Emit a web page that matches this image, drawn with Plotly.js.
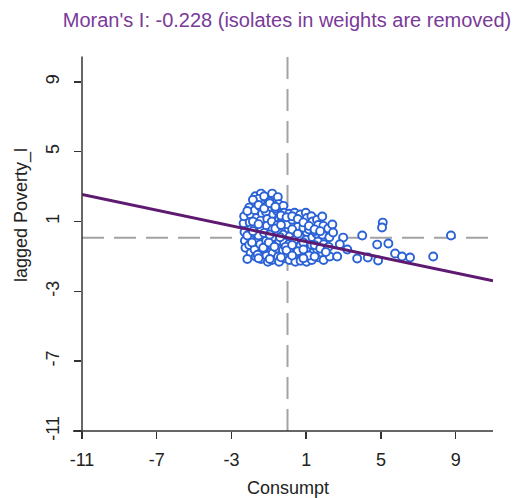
<!DOCTYPE html>
<html>
<head>
<meta charset="utf-8">
<script src="https://cdn.plot.ly/plotly-3.0.1.min.js"></script>
<style>html,body{margin:0;padding:0;background:#fff;}#chart{width:514px;height:498px;}</style>
</head>
<body>
<div id="chart"></div>
<script>
// ---- data ----
const titleText = "Moran's I: -0.228 (isolates in weights are removed)";
const xLabel = "Consumpt";
const yLabel = "lagged Poverty_l";
const tickValues = [-11, -7, -3, 1, 5, 9];
const tickLabels = ["-11", "-7", "-3", "1", "5", "9"];

const consumpt = [
  -2.35,-2.30,-2.28,-2.32,-2.25,
  -2.05,-1.98,-2.02,-1.95,-2.00,-2.05,-1.97,
  -1.72,-1.68,-1.75,-1.66,-1.73,-1.70,-1.64,-1.76,-1.70,
  -1.42,-1.38,-1.45,-1.36,-1.44,-1.40,-1.35,-1.46,-1.38,-1.42,
  -1.12,-1.06,-1.15,-1.08,-1.10,-1.05,-1.14,-1.08,-1.12,-1.05,
  -0.82,-0.78,-0.85,-0.76,-0.84,-0.80,-0.75,-0.86,-0.79,-0.83,
  -0.52,-0.47,-0.55,-0.46,-0.53,-0.49,-0.44,-0.56,-0.50,-0.45,
  -0.22,-0.17,-0.25,-0.16,-0.23,-0.18,-0.24,-0.15,
  0.08,0.14,0.05,0.12,0.07,0.15,0.10,
  0.38,0.44,0.36,0.43,0.39,0.45,0.37,0.42,
  0.68,0.74,0.66,0.72,0.69,0.75,0.70,
  0.98,1.04,0.96,1.03,0.99,1.05,0.97,1.02,
  1.28,1.34,1.26,1.33,1.29,1.35,1.30,
  1.58,1.64,1.56,1.63,1.59,1.65,
  1.86,1.92,1.88,1.94,1.87,1.93,
  2.18,2.24,2.20,2.26,
  -1.55,-1.25,-0.95,-0.65,-1.85,-1.55,-1.25,-0.35,-0.05,0.25,0.55,0.85,
  -1.90,-1.60,-1.30,-1.00,-0.70,-0.40,-0.10,0.25,0.55,0.85,1.15,1.45,
  -2.15,-1.85,-1.55,-1.25,-0.95,-0.65,-0.35,-2.15,-1.85,-1.55,-1.25,-0.95,-0.65,-0.35,
  -0.05,0.25,0.55,0.85,1.15,1.45,1.75,-0.05,0.25,0.55,0.85,1.15,1.45,1.75,
  -2.15,-1.55,-0.95,-0.35,0.25,0.85,1.45,2.05,
  2.40,2.44,2.98,4.00,5.10,5.06,4.80,5.40,5.76,6.13,6.56,7.80,8.75,3.73,4.30,4.85,2.66,3.20,2.80
];
const laggedPoverty = [
  0.90,0.40,-0.10,1.30,-0.50,
  1.80,1.40,0.95,0.55,0.10,-0.35,-0.80,
  2.45,2.05,1.65,1.20,0.75,0.30,-0.15,-0.60,-1.00,
  2.60,2.20,1.85,1.45,1.05,0.60,0.15,-0.30,-0.75,-1.15,
  2.35,1.95,1.55,1.15,0.75,0.35,-0.10,-0.55,-0.95,-1.30,
  2.60,2.20,1.80,1.40,1.00,0.55,0.10,-0.35,-0.80,-1.20,
  2.40,2.00,1.60,1.20,0.80,0.35,-0.10,-0.55,-1.00,-1.30,
  1.90,1.50,1.10,0.70,0.25,-0.20,-0.65,-1.10,
  1.45,1.00,0.60,0.15,-0.30,-0.75,-1.20,
  1.50,1.20,0.85,0.40,-0.05,-0.50,-0.95,-1.30,
  1.40,0.95,0.50,0.05,-0.40,-0.85,-1.25,
  1.50,1.20,0.85,0.40,-0.05,-0.50,-0.95,-1.30,
  1.30,1.00,0.55,0.10,-0.35,-0.80,-1.20,
  1.10,0.80,0.30,-0.15,-0.60,-1.05,
  1.29,0.75,0.25,-0.30,-0.80,-1.20,
  0.60,0.10,-0.45,-1.00,
  2.30,2.45,2.15,1.75,1.00,0.20,-0.55,1.30,0.85,1.10,0.70,-0.20,
  -0.20,-0.90,-0.50,-0.20,-0.45,0.10,-0.45,0.55,0.30,0.65,0.55,0.45,
  1.60,2.25,1.95,1.75,2.05,1.85,1.35,0.20,0.45,0.85,0.35,0.25,0.60,0.80,
  1.25,1.30,1.15,0.95,0.75,0.55,0.45,-0.65,-0.35,-0.70,-0.60,-0.95,-0.35,-0.55,
  -1.15,-1.10,-1.15,-1.05,-0.95,-1.10,-1.00,-0.75,
  0.83,0.37,0.08,0.20,0.94,0.66,-0.32,-0.26,-0.83,-1.00,-1.06,-1.00,0.20,-1.12,-1.06,-1.23,-1.00,-0.60,-0.30
];
const meanX = [0, 0];
const meanLineY = [-11, 11];
const meanY = [0.07, 0.07];
const meanLineX = [-11, 11];
const regX = [-11, 11];
const regY = [2.55, -2.40];

const font = "Liberation Sans, Arial, sans-serif";
const dash = "22px,10px";

const traces = [
  {x: meanX, y: meanLineY, mode: "lines", line: {color: "#a3a3a3", width: 2, dash: dash}, hoverinfo: "skip"},
  {x: meanLineX, y: meanY, mode: "lines", line: {color: "#a3a3a3", width: 2, dash: dash}, hoverinfo: "skip"},
  {x: consumpt, y: laggedPoverty, mode: "markers", type: "scatter",
   marker: {symbol: "circle", size: 8, color: "#ffffff", line: {color: "#2a62d6", width: 1.9}}},
  {x: regX, y: regY, mode: "lines", line: {color: "#5e1a70", width: 3}}
];

const axisCommon = {
  range: [-11, 11], tickvals: tickValues, ticktext: tickLabels,
  ticks: "outside", ticklen: 7, tickwidth: 1.5, tickcolor: "#333",
  showgrid: false, zeroline: false, showline: false, fixedrange: true,
  tickfont: {family: font, size: 18, color: "#222"}
};

const layout = {
  width: 514, height: 498,
  margin: {l: 82, r: 21, t: 47, b: 67, pad: 0},
  paper_bgcolor: "#fff", plot_bgcolor: "#fff",
  showlegend: false,
  title: {text: titleText, x: 287/514, xanchor: "center", y: 1 - 20/498, yanchor: "middle",
          font: {family: font, size: 20, color: "#7a3a98"}},
  xaxis: Object.assign({}, axisCommon, {ticklabelstandoff: 5}),
  yaxis: Object.assign({}, axisCommon, {tickangle: -90, ticklabelstandoff: 8}),
  shapes: [
    {type: "line", xref: "paper", yref: "paper", x0: -0.022, x1: 1.0, y0: 0, y1: 0, line: {color: "#333", width: 1.5}},
    {type: "line", xref: "paper", yref: "paper", x0: 0, x1: 0, y0: -0.018, y1: 0.975, line: {color: "#333", width: 1.5}}
  ],
  annotations: [
    {text: xLabel, xref: "paper", yref: "paper", x: 0.5, y: -57/384, xanchor: "center", yanchor: "middle",
     showarrow: false, font: {family: font, size: 18, color: "#222"}},
    {text: yLabel, xref: "paper", yref: "paper", x: -61/411, y: (431-215)/384, xanchor: "center", yanchor: "middle",
     textangle: -90, showarrow: false, font: {family: font, size: 18, color: "#222"}}
  ]
};

Plotly.newPlot("chart", traces, layout, {displayModeBar: false, staticPlot: true});
</script>
</body>
</html>
